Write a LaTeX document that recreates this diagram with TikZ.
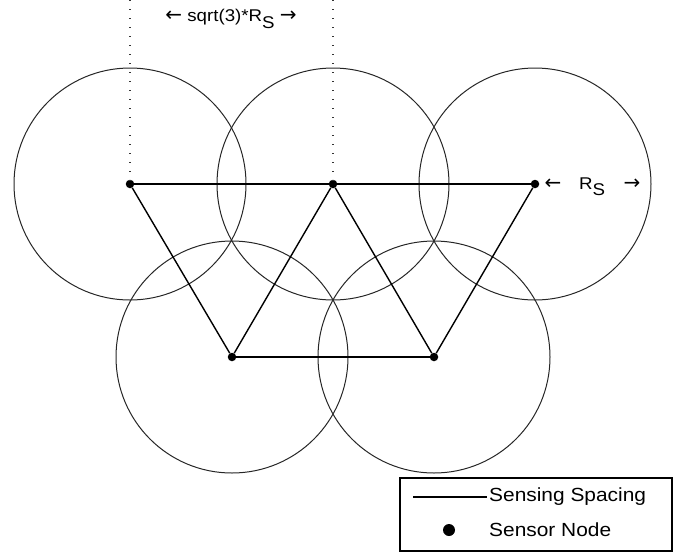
\documentclass[tikz,border=0pt]{standalone}
\usepackage{fontspec}
\setmainfont{Liberation Sans}
\newfontfamily\lab[FakeStretch=1.1]{Liberation Sans}
\newfontfamily\arr{DejaVu Sans}
\newcommand{\bigarr}[1]{{\arr\fontsize{20}{20}\selectfont #1}}
\begin{document}
\begin{tikzpicture}[x=1pt,y=-1pt,
  sensor/.style={circle,fill=black,inner sep=0pt,minimum size=8.5pt},
  legdot/.style={circle,fill=black,inner sep=0pt,minimum size=12pt},
  senserange/.style={draw=black!85,line width=1pt},
  spacingline/.style={draw=black,line width=1.4pt},
  guideline/.style={draw=black!80,line width=1.3pt,dash pattern=on 1.2pt off 7.8pt},
  labtxt/.style={inner sep=0pt,font=\lab\fontsize{17}{20}\selectfont},
  legtxt/.style={inner sep=0pt,anchor=west,font=\lab\fontsize{19}{22}\selectfont}]
\useasboundingbox (0,0) rectangle (681,555);
% sensor nodes
\node[sensor] (a) at (130,184) {};
\node[sensor] (b) at (333,184) {};
\node[sensor] (c) at (535,184) {};
\node[sensor] (d) at (232,357) {};
\node[sensor] (e) at (434,357) {};
% sensing ranges
\foreach \n in {a,b,c,d,e} \draw[senserange] (\n.center) circle (116);
% sensing spacing
\draw[spacingline] (a) -- (b);
\draw[spacingline] (b) -- (c);
\draw[spacingline] (d) -- (e);
\draw[spacingline] (a) -- (d);
\draw[spacingline] (d) -- (b);
\draw[spacingline] (b) -- (e);
\draw[spacingline] (e) -- (c);
% guide lines
\coordinate (ga) at (130,0);
\coordinate (gb) at (333,0);
\draw[guideline] (ga) -- (a.center);
\draw[guideline] (gb) -- (b.center);
% labels
\node[labtxt] (sq) at (231,19) {\bigarr{←} sqrt(3)*R\raisebox{-0.7ex}{S} \bigarr{→}};
\node[labtxt] (la) at (553,184) {\bigarr{←}};
\node[labtxt] (rs) at (592,187) {R\raisebox{-0.7ex}{S}};
\node[labtxt] (ra) at (632,184) {\bigarr{→}};
% legend
\node[draw=black,line width=1.3pt,minimum width=272pt,minimum height=73pt,inner sep=0pt] (leg) at (536,514.5) {};
\coordinate (l1) at (413,497);
\coordinate (l2) at (487,497);
\draw[draw=black,line width=1.3pt] (l1) -- (l2);
\node[legtxt] (t1) at (489,497) {Sensing Spacing};
\node[legdot] (ld) at (449,530) {};
\node[legtxt] (t2) at (489,530) {Sensor Node};
\end{tikzpicture}
\end{document}
